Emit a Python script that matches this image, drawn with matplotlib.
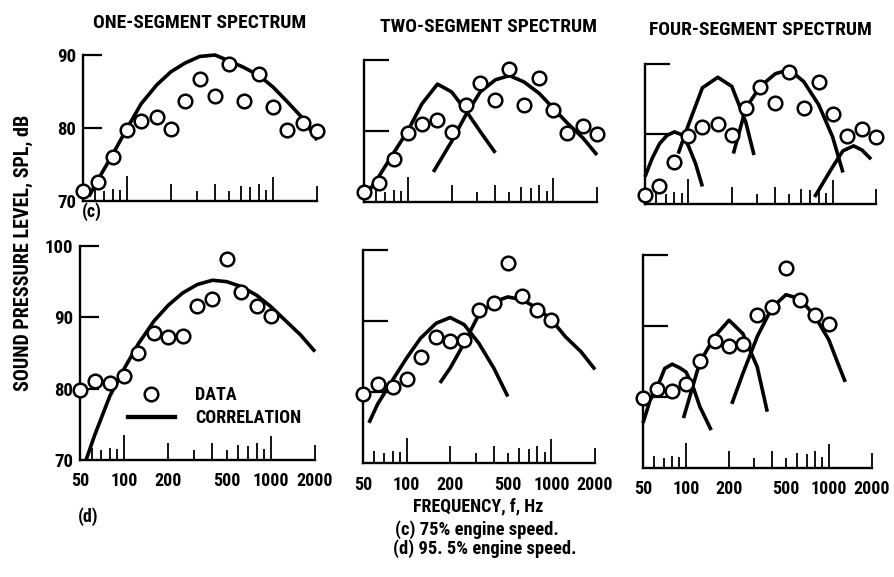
import matplotlib
matplotlib.use("Agg")
import matplotlib.pyplot as plt
from matplotlib.lines import Line2D

plt.rcParams["font.family"] = ["Roboto Condensed", "DejaVu Sans"]
plt.rcParams["font.weight"] = "bold"

# ---------------- data ----------------
freq_c = [50, 63, 80, 100, 125, 160, 200, 250, 315, 400, 500, 630, 800, 1000, 1250, 1600, 2000]
spl_c = [71.3, 72.6, 76.0, 79.7, 81.0, 81.5, 79.9, 83.7, 86.7, 84.4, 88.8, 83.7, 87.4, 82.9, 79.7, 80.7, 79.6]

freq_d = [50, 63, 80, 100, 125, 160, 200, 250, 315, 400, 500, 630, 800, 1000]
spl_d = [79.8, 81.1, 80.8, 81.8, 85.0, 87.8, 87.2, 87.4, 91.6, 92.6, 98.2, 93.6, 91.6, 90.2]

# correlation curves, (c) 75% speed
c1_f = [55, 63, 80, 100, 125, 160, 200, 250, 315, 400, 500, 630, 800, 1000, 1250, 1600, 2000]
c1_s = [70.6, 72.8, 76.4, 79.9, 83.3, 85.9, 87.7, 88.9, 89.8, 90.0, 89.2, 88.3, 87.2, 85.6, 83.6, 81.3, 78.3]

c2a_f = [50, 63, 80, 100, 125, 160, 200, 250, 315, 400]
c2a_s = [70.5, 73.5, 76.9, 80.0, 83.8, 86.6, 85.5, 82.9, 79.9, 76.9]
c2b_f = [150, 200, 250, 315, 400, 500, 630, 800, 1000, 1250, 1600, 2000]
c2b_s = [74.2, 78.5, 82.2, 85.5, 87.2, 87.8, 86.9, 85.3, 83.2, 81.1, 79.0, 76.6]

c4a_f = [50, 56, 63, 71, 80, 90, 100, 112, 125]
c4a_s = [73.9, 76.5, 78.6, 79.8, 80.3, 79.9, 78.3, 75.8, 72.5]
c4b_f = [85, 100, 125, 160, 200, 250, 285]
c4b_s = [77.2, 81.3, 86.6, 88.1, 86.8, 81.7, 77.0]
c4c_f = [205, 250, 315, 400, 500, 630, 800, 1000, 1180]
c4c_s = [77.2, 83.7, 86.8, 88.6, 89.2, 87.5, 84.2, 79.6, 74.5]
c4d_f = [750, 1000, 1180, 1400, 1600, 1850]
c4d_s = [71.0, 75.3, 77.6, 78.3, 77.7, 76.4]

# correlation curves, (d) 95.5% speed
d1_f = [55, 63, 80, 100, 125, 160, 200, 250, 315, 400, 500, 630, 800, 1000, 1250, 1600, 2000]
d1_s = [70.0, 73.5, 79.0, 82.8, 86.3, 89.5, 91.7, 93.4, 94.6, 95.2, 95.0, 94.3, 93.1, 91.5, 89.6, 87.5, 85.2]

d2a_f = [55, 63, 80, 100, 125, 160, 200, 250, 315, 400, 500]
d2a_s = [75.7, 78.3, 81.7, 84.8, 87.6, 89.7, 90.5, 89.5, 86.9, 83.4, 79.4]
d2b_f = [170, 200, 250, 315, 400, 500, 630, 800, 1000, 1250, 1600, 2000]
d2b_s = [81.3, 83.4, 86.9, 90.9, 92.7, 93.4, 93.0, 91.8, 90.2, 87.8, 85.7, 83.2]

d4a_f = [50, 56, 63, 71, 80, 90, 100, 112, 125, 150]
d4a_s = [76.3, 79.5, 81.4, 84.0, 84.6, 84.1, 83.5, 81.4, 78.6, 75.3]
d4b_f = [96, 125, 160, 200, 250, 315, 370]
d4b_s = [77.0, 84.9, 88.6, 90.8, 88.9, 84.2, 77.9]
d4c_f = [209, 250, 315, 400, 500, 630, 800, 1000, 1130, 1300]
d4c_s = [79.0, 83.3, 88.5, 92.6, 94.4, 93.8, 91.3, 88.0, 85.2, 82.1]

titles = ["ONE-SEGMENT SPECTRUM", "TWO-SEGMENT SPECTRUM", "FOUR-SEGMENT SPECTRUM"]

xtick_freqs = [50, 60, 70, 80, 90, 100, 200, 300, 400, 500, 600, 700, 800, 900, 1000, 2000]
xtick_text = ["50", "", "", "", "", "100", "200", "", "", "500", "", "", "", "", "1000", "2000"]

ytick_c = [70, 80, 90]
ytick_d = [70, 80, 90, 100]

# ---------------- styles ----------------
XTICK_LEN = [0, 9, 7, 8.5, 8, 18, 12.5, 7.5, 12.5, 7, 11, 10, 12.5, 8, 17, 11]
YTICK_LEN = [14, 18, 18]
W, H = 894, 577
boxes = {  # px: left, right, top, bottom
    (0, 0): (83, 317, 55, 200.7),
    (0, 1): (364, 597, 60, 201.7),
    (0, 2): (645, 876, 64, 204),
    (1, 0): (80, 315, 246, 460),
    (1, 1): (363, 595, 250, 463.3),
    (1, 2): (643, 872, 255, 467.7),
}
TS = 13
LW_AX = 1.7
LW_CURVE = 2.6

fig = plt.figure(figsize=(W / 100, H / 100), dpi=100)

curves = {
    (0, 0): [(c1_f, c1_s)],
    (0, 1): [(c2a_f, c2a_s), (c2b_f, c2b_s)],
    (0, 2): [(c4a_f, c4a_s), (c4b_f, c4b_s), (c4c_f, c4c_s), (c4d_f, c4d_s)],
    (1, 0): [(d1_f, d1_s)],
    (1, 1): [(d2a_f, d2a_s), (d2b_f, d2b_s)],
    (1, 2): [(d4a_f, d4a_s), (d4b_f, d4b_s), (d4c_f, d4c_s)],
}

axes = {}
for (r, c), (l, rr, t, b) in boxes.items():
    ax = fig.add_axes([l / W, 1 - b / H, (rr - l) / W, (b - t) / H])
    axes[(r, c)] = ax
    ax.set_xscale("log")
    ax.set_xlim(50, 2000)
    if r == 0:
        ax.set_ylim(70, 90)
        yt = ytick_c
        fq, sp = freq_c, spl_c
    else:
        ax.set_ylim(70, 100)
        yt = ytick_d
        fq, sp = freq_d, spl_d
    for side in ("top", "right"):
        ax.spines[side].set_visible(False)
    for side in ("left", "bottom"):
        ax.spines[side].set_linewidth(LW_AX)
    ax.patch.set_alpha(0)

    for f, s in curves[(r, c)]:
        ax.plot(f, s, color="black", lw=LW_CURVE, solid_capstyle="butt", zorder=3, clip_on=False)
    ax.plot(fq, sp, "o", ms=9.8, mfc="white", mec="black", mew=1.8, zorder=4, clip_on=False)

    ax.xaxis.set_minor_locator(matplotlib.ticker.NullLocator())
    ax.set_xticks(xtick_freqs)
    if r == 1:
        ax.set_xticklabels(xtick_text, fontsize=TS, fontweight="bold")
    else:
        ax.set_xticklabels([""] * len(xtick_freqs))
    ax.tick_params(axis="x", direction="in", width=1.3, pad=9)
    for tk, L in zip(ax.xaxis.get_major_ticks(), XTICK_LEN):
        tk.tick1line.set_markersize(L)

    ax.set_yticks(yt)
    if c == 0:
        ax.set_yticklabels([str(v) for v in yt], fontsize=13.5, fontweight="bold")
    else:
        ax.set_yticklabels([""] * len(yt))
    ax.tick_params(axis="y", direction="in", width=1.6, length=YTICK_LEN[c], pad=5)
    ax.yaxis.get_major_ticks()[0].tick1line.set_markersize(0)

# titles
fig.text(200 / W, 1 - 23 / H, titles[0], ha="center", va="center", fontsize=14, fontweight="bold")
fig.text(488 / W, 1 - 27 / H, titles[1], ha="center", va="center", fontsize=14, fontweight="bold")
fig.text(760 / W, 1 - 30 / H, titles[2], ha="center", va="center", fontsize=14, fontweight="bold")

fig.text(92 / W, 1 - 212 / H, "(c)", ha="center", va="center", fontsize=13, fontweight="bold")
fig.text(88 / W, 1 - 517 / H, "(d)", ha="center", va="center", fontsize=13, fontweight="bold")

fig.text(23 / W, 1 - 253 / H, "SOUND PRESSURE LEVEL, SPL, dB", rotation=90,
         ha="center", va="center", fontsize=14.5, fontweight="bold")
fig.text(478 / W, 1 - 506 / H, "FREQUENCY, f, Hz", ha="center", va="center", fontsize=13, fontweight="bold")
fig.text(395 / W, 1 - 530 / H, "(c) 75% engine speed.", ha="left", va="center", fontsize=13.3, fontweight="bold")
fig.text(393 / W, 1 - 549 / H, "(d) 95. 5% engine speed.", ha="left", va="center", fontsize=13.3, fontweight="bold")

# legend
handles = [
    Line2D([], [], marker="o", ls="none", ms=9.8, mfc="white", mec="black", mew=1.8),
    Line2D([], [], color="black", lw=LW_CURVE + 0.5),
]
axes[(1, 0)].legend(handles, ["DATA", "CORRELATION"], loc="upper left",
                    bbox_to_anchor=(128 / W, 1 - 386 / H), bbox_transform=fig.transFigure,
                    frameon=False, handlelength=2.6, handletextpad=1.1,
                    labelspacing=0.3, borderpad=0, borderaxespad=0, prop={"weight": "bold", "size": 13})

fig.savefig("out.png", dpi=100)
